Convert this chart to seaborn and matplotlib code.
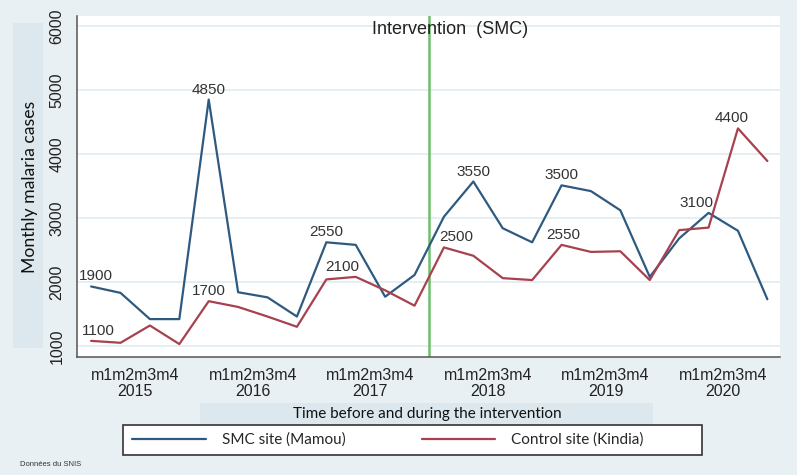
import matplotlib
matplotlib.use("Agg")
import matplotlib.pyplot as plt
import matplotlib.patches as mpatches
from matplotlib.lines import Line2D
import seaborn as sns
import pandas as pd
import numpy as np

years = ["2015", "2016", "2017", "2018", "2019", "2020"]
months = ["m1", "m2", "m3", "m4"]
smc_mamou = [1930, 1830, 1420, 1420, 4850, 1840, 1760, 1460,
             2620, 2580, 1770, 2110, 3020, 3570, 2840, 2620,
             3510, 3420, 3120, 2080, 2680, 3080, 2800, 1730]
control_kindia = [1080, 1050, 1320, 1030, 1700, 1610, 1460, 1300,
                  2040, 2080, 1870, 1630, 2540, 2410, 2060, 2030,
                  2580, 2470, 2480, 2030, 2810, 2850, 4400, 3890]
series_names = ["SMC site (Mamou)", "Control site (Kindia)"]
labels_smc = {0: "1900", 4: "4850", 8: "2550", 13: "3550", 16: "3500", 21: "3100"}
labels_ctrl = {0: "1100", 4: "1700", 9: "2100", 12: "2500", 16: "2550", 22: "4400"}
intervention_start = 11.5
yticks = [1000, 2000, 3000, 4000, 5000, 6000]

n = len(smc_mamou)
period = list(range(n))
df = pd.DataFrame({
    "period": period * 2,
    "cases": smc_mamou + control_kindia,
    "site": [series_names[0]] * n + [series_names[1]] * n,
})

sns.set_style("white")
plt.rcParams['font.family'] = ['Liberation Sans', 'DejaVu Sans']

BG = "#e9f0f3"
PANEL = "#dce8ed"
BLUE = "#2f5a80"
RED = "#a8414f"

fig = plt.figure(figsize=(7.97, 4.75), dpi=100, facecolor=BG)
W, H = 797, 475
def fx(px): return px / W
def fy(py): return 1 - py / H

# background panels
fig.patches.append(mpatches.Rectangle((fx(13), fy(348)), fx(43) - fx(13), fy(23) - fy(348),
                                      transform=fig.transFigure, facecolor=PANEL, edgecolor='none', zorder=0))
fig.patches.append(mpatches.Rectangle((fx(200), fy(425)), fx(653) - fx(200), fy(403) - fy(425),
                                      transform=fig.transFigure, facecolor=PANEL, edgecolor='none', zorder=0))

ax = fig.add_axes([fx(77), fy(357), fx(780) - fx(77), fy(16) - fy(357)])
ax.set_facecolor("white")

sns.lineplot(data=df, x="period", y="cases", hue="site", palette=[BLUE, RED],
             linewidth=1.6, ax=ax, legend=False, sort=False)

ax.set_xlim(-0.48, 23.43)
ax.set_ylim(828, 6156)
ax.set_yticks(yticks)
ax.set_yticklabels([str(v) for v in yticks], rotation=90, va='center', fontsize=11.5)
ax.yaxis.grid(True, color="#e2eef2", linewidth=1.3)
ax.xaxis.grid(False)
ax.set_axisbelow(True)

xt = [1.5 + 4 * i for i in range(len(years))]
ax.set_xticks(xt)
ax.set_xticklabels(["".join(months) + "\n" + y for y in years], fontsize=11.5, linespacing=1.05)
ax.tick_params(axis='both', which='both', length=5, width=1, color="#555555", labelcolor="#222222")
ax.tick_params(axis='x', pad=3)
ax.tick_params(axis='y', pad=4)

for s in ["top", "right"]:
    ax.spines[s].set_visible(False)
for s in ["left", "bottom"]:
    ax.spines[s].set_color("#555555")
    ax.spines[s].set_linewidth(1.1)

ax.set_xlabel("")
ax.set_ylabel("")

ax.axvline(intervention_start, color="#6cc06a", linewidth=1.8, zorder=1)
ax.text(12.2, 0.96, "Intervention  (SMC)", transform=ax.get_xaxis_transform(),
        ha='center', va='center', fontsize=13, color="#222222")

def annotate(series, labels, offsets):
    for i, txt in labels.items():
        dx = offsets.get(i, 0)
        ax.annotate(txt, (period[i], series[i]), xytext=(dx, 3), textcoords='offset pixels',
                    ha='center', va='bottom', fontsize=11, color="#333333")

annotate(smc_mamou, labels_smc, {0: 5, 21: -12})
annotate(control_kindia, labels_ctrl, {0: 7, 9: -13, 12: 12, 16: 2, 22: -6})

fig.text(fx(30), fy(187), "Monthly malaria cases", rotation=90, ha='center', va='center',
         fontsize=12.7, family=['Lato', 'DejaVu Sans'], color="#111111")
fig.text(fx(427), fy(414), "Time before and during the intervention", ha='center', va='center',
         fontsize=11, family=['Lato', 'DejaVu Sans'], color="#111111")
fig.text(fx(20), fy(465), "Données du SNIS", ha='left', va='center', fontsize=5.5, color="#333333")

# legend box
fig.patches.append(mpatches.Rectangle((fx(123), fy(455)), fx(702) - fx(123), fy(425) - fy(455),
                                      transform=fig.transFigure, facecolor='white',
                                      edgecolor='#333333', linewidth=1.2, zorder=1))
handles = [Line2D([], [], color=BLUE, lw=1.6), Line2D([], [], color=RED, lw=1.6)]
leg = fig.legend(handles, series_names, loc='center', bbox_to_anchor=(fx(388), fy(440)),
                 ncol=2, frameon=False, handlelength=4.8, columnspacing=5.0, handletextpad=1.05,
                 prop={'family': ['Lato', 'DejaVu Sans'], 'size': 11})

fig.savefig("out.png", dpi=100, facecolor=BG)
